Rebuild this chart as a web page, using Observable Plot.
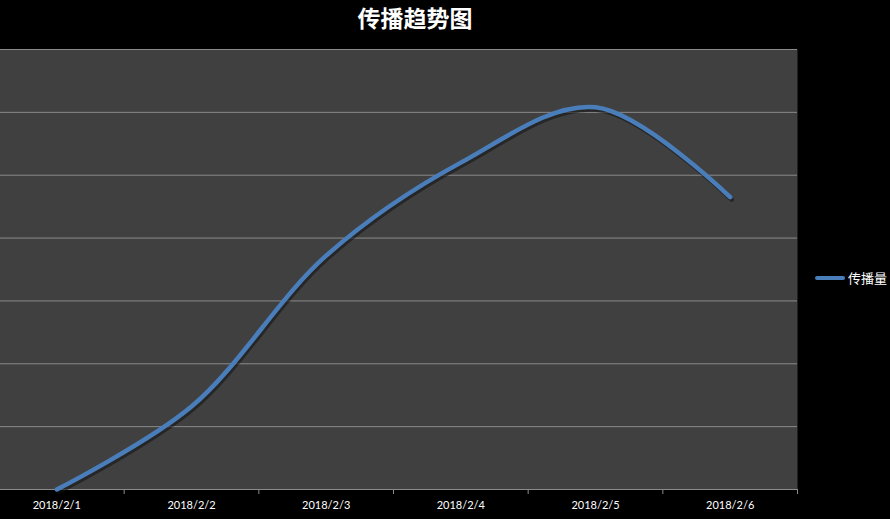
<!DOCTYPE html>
<html>
<head>
<meta charset="utf-8">
<script src="https://cdn.jsdelivr.net/npm/d3@7"></script>
<script src="https://cdn.jsdelivr.net/npm/@observablehq/plot@0.6"></script>
<style>
  html, body { margin: 0; padding: 0; background: #000; }
  #wrap { position: relative; width: 890px; height: 519px; overflow: hidden; background: #000; }
  #title { position: absolute; z-index: 2; top: 1px; left: 315px; width: 200px; text-align: center;
    font-family: "Noto Sans CJK SC", sans-serif; font-weight: bold; font-size: 23px; color: #fff; line-height: 32px; }
  #chart { position: absolute; z-index: 1; top: 0; left: -11px; }
  #legend { position: absolute; z-index: 2; left: 815px; top: 268px; display: flex; align-items: center;
    font-family: "Noto Sans CJK SC", sans-serif; font-size: 13px; color: #fff; }
  #legend .sw { width: 30px; height: 4px; background: #4a7ebb; border-radius: 2px; margin-right: 3px; }
</style>
</head>
<body>
<div id="wrap">
  <div id="title">传播趋势图</div>
  <div id="chart"></div>
  <div id="legend"><span class="sw"></span><span>传播量</span></div>
</div>
<script>
const dates = ["2018/2/1", "2018/2/2", "2018/2/3", "2018/2/4", "2018/2/5", "2018/2/6"];
const seriesName = "传播量";
const values = [0, 1.32, 3.72, 5.2, 6.08, 4.65];
const yTicks = [0, 1, 2, 3, 4, 5, 6, 7];

const data = dates.map((d, i) => ({i, date: d, value: values[i]}));
const boundaries = dates.map((d, i) => i + 0.5).concat([-0.5]);

const chart = Plot.plot({
  width: 901,
  height: 519,
  marginTop: 49,
  marginBottom: 30,
  marginLeft: 0,
  marginRight: 93,
  style: {background: "#000", color: "#fff", fontFamily: "Lato, sans-serif", fontSize: "11px"},
  x: {type: "linear", domain: [-0.5, dates.length - 0.5], axis: null},
  y: {domain: [0, 7], axis: null},
  marks: [
    Plot.frame({fill: "#404040", stroke: null}),
    Plot.ruleY(yTicks, {stroke: "#8a8a8a", strokeWidth: 1}),
    Plot.axisX({ticks: boundaries, tickFormat: () => "", tickSize: 5, stroke: "#8a8a8a", label: null}),
    Plot.axisX({ticks: d3.range(dates.length), tickFormat: i => dates[i], tickSize: 0, tickPadding: 12, fill: "#fff", label: null, fontSize: 11}),
    Plot.line(data, {x: "i", y: "value", curve: "catmull-rom", stroke: "#111", strokeOpacity: 0.55, strokeWidth: 4.5, dx: 1.5, dy: 2.5}),
    Plot.line(data, {x: "i", y: "value", curve: "catmull-rom", stroke: "#4a7ebb", strokeWidth: 4.5, strokeLinecap: "round"})
  ]
});
document.getElementById("chart").appendChild(chart);
</script>
</body>
</html>
